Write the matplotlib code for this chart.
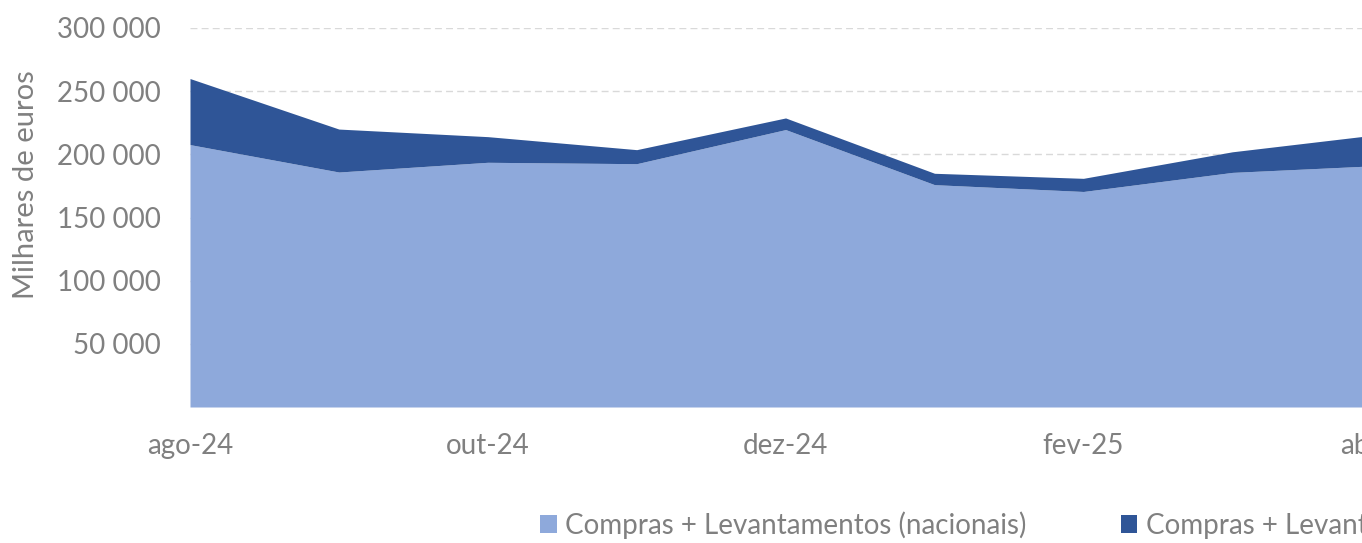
import numpy as np
import matplotlib
matplotlib.use("Agg")
from matplotlib import pyplot as plt

plt.rcParams['font.family'] = ['Lato', 'DejaVu Sans']

months = ['ago-24', 'set-24', 'out-24', 'nov-24', 'dez-24', 'jan-25', 'fev-25', 'mar-25', 'abr-25']
# milhares de euros
nacionais = [207700, 186000, 193700, 192600, 219600, 176000, 170600, 185700, 191200]
internacionais = [52300, 34000, 20300, 11100, 9200, 9000, 10400, 16300, 24700]
labels = ['Compras + Levantamentos (nacionais)', 'Compras + Levantamentos (internacionais)']
yticks = [50000, 100000, 150000, 200000, 250000, 300000]

light = '#8EA9DB'
dark = '#2F5597'
grey = '#808080'

W, H = 1362, 543
fig = plt.figure(figsize=(W / 100, H / 100), dpi=100)
step = 148.9
x0 = 190
axw = 8 * step
ax = fig.add_axes([x0 / W, (H - 407) / H, axw / W, (407 - 28) / H])

x = np.arange(len(months))
nac = np.asarray(nacionais)
tot = nac + np.asarray(internacionais)
ax.fill_between(x, 0, nac, color=light, lw=0, label=labels[0], zorder=2)
ax.fill_between(x, nac, tot, color=dark, lw=0, label=labels[1], zorder=2)

ax.set_xlim(0, 8)
ax.set_ylim(0, 300000)
ax.set_yticks(yticks)
ax.set_yticklabels([f"{v:,}".replace(',', ' ') for v in yticks])
ax.set_xticks(x[::2])
ax.set_xticklabels(months[::2])
ax.tick_params(length=0, labelsize=20, labelcolor=grey)
ax.tick_params(axis='x', pad=19)
ax.tick_params(axis='y', pad=21)
ax.yaxis.grid(True, color='#D9D9D9', ls=(0, (5, 3)), lw=1, zorder=0)
ax.set_axisbelow(True)
for s in ax.spines.values():
    s.set_visible(False)
ax.set_ylabel('Milhares de euros', fontsize=21, color=grey)
ax.yaxis.set_label_coords((39 - x0) / axw, 0.586)

fig.legend(loc='center left', bbox_to_anchor=(515 / W, 1 - 525 / H), ncol=2,
           frameon=False, fontsize=20, labelcolor=grey, handlelength=0.6,
           handleheight=0.6, handletextpad=0.3, columnspacing=3.4)

fig.savefig('out.png', dpi=100)
